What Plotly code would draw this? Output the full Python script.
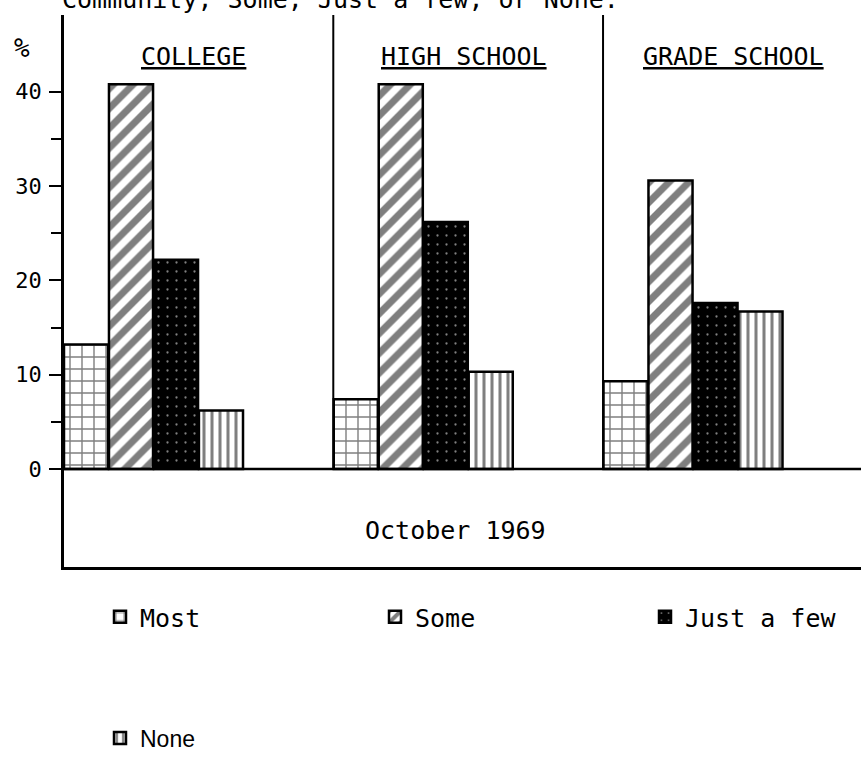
import plotly.graph_objects as go

groups = ["COLLEGE", "HIGH SCHOOL", "GRADE SCHOOL"]
series = ["Most", "Some", "Just a few", "None"]
most = [13.2, 7.4, 9.3]
some = [40.8, 40.8, 30.6]
just_a_few = [22.2, 26.2, 17.6]
none = [6.2, 10.3, 16.7]
ytick_vals = [0, 10, 20, 30, 40]
ytick_text = ["0", "10", "20", "30", "40"]
title_text = "Community, Some, Just a few, or None."
period_text = "October 1969"

MONO = "DejaVu Sans Mono"
BARGAP = 0.333
YMIN, YMAX = -10.39, 48.14

patterns = [
    dict(shape="+", fgcolor="black", bgcolor="white", size=12, solidity=0.22),
    dict(shape="/", fgcolor="black", bgcolor="white", size=14, solidity=0.5),
    dict(shape=".", fgcolor="white", bgcolor="black", size=9, solidity=0.05),
    dict(shape="|", fgcolor="black", bgcolor="white", size=8, solidity=0.38),
]
values = [most, some, just_a_few, none]
legend_ids = ["legend", "legend2", "legend3", "legend4"]

fig = go.Figure()
for name, vals, pat, lg in zip(series, values, patterns, legend_ids):
    fig.add_trace(go.Bar(
        x=groups, y=vals, name=name, legend=lg,
        marker=dict(color="white", pattern=pat,
                    line=dict(color="black", width=2.5)),
        hoverinfo="skip",
    ))

# baseline at zero and separators between groups
fig.add_shape(type="line", xref="paper", yref="y", x0=0, x1=1, y0=0, y1=0,
              line=dict(color="black", width=2.5))
for i in range(1, len(groups)):
    xs = i - (1 - BARGAP) / 2
    fig.add_shape(type="line", xref="x", yref="paper", x0=xs, x1=xs,
                  y0=(0 - YMIN) / (YMAX - YMIN), y1=1,
                  line=dict(color="black", width=2))

annotations = []
for i, g in enumerate(groups):
    annotations.append(dict(
        x=i + 0.15, y=43.7, xref="x", yref="y", text=g, showarrow=False,
        font=dict(family=MONO, size=25, color="black", lineposition="under"),
        xanchor="center", yanchor="middle"))
annotations.append(dict(
    x=(455 - 64) / 797, y=-6.5, xref="paper", yref="y", text=period_text,
    showarrow=False, font=dict(family=MONO, size=25, color="black"),
    xanchor="center", yanchor="middle"))
annotations.append(dict(
    x=-0.005, y=1.0272, xref="paper", yref="paper", text=title_text,
    showarrow=False, font=dict(family=MONO, size=25, color="black"),
    xanchor="left", yanchor="middle"))
annotations.append(dict(
    x=-0.053, y=44.6, xref="paper", yref="y", text="%",
    showarrow=False, font=dict(family=MONO, size=26, color="black"),
    xanchor="center", yanchor="middle"))

def leg(xpx, ypx, fam, size):
    return dict(x=(xpx - 64) / 797, y=(567 - ypx) / 552, xanchor="left",
                yanchor="middle", orientation="h", bgcolor="rgba(0,0,0,0)",
                font=dict(family=fam, size=size, color="black"))

fig.update_layout(
    width=861, height=773,
    margin=dict(l=64, r=0, t=15, b=206, autoexpand=False),
    paper_bgcolor="white", plot_bgcolor="white",
    barmode="group", bargap=BARGAP, bargroupgap=0.02,
    showlegend=True,
    legend=leg(100, 617, MONO, 25),
    legend2=leg(375, 617, MONO, 25),
    legend3=leg(645, 617, MONO, 25),
    legend4=leg(100, 738, "Liberation Sans", 23),
    annotations=annotations,
    font=dict(family=MONO, color="black"),
)
fig.update_xaxes(
    type="category", range=[-0.3318, 2.6228], showticklabels=False,
    ticks="", showgrid=False, zeroline=False,
    showline=True, linecolor="black", linewidth=2.5,
)
fig.update_yaxes(
    range=[YMIN, YMAX], tickvals=ytick_vals, ticktext=ytick_text,
    ticks="outside", ticklen=12, tickwidth=2, tickcolor="black",
    tickfont=dict(family=MONO, size=22, color="black"),
    ticklabelstandoff=3,
    minor=dict(tickvals=[5, 15, 25, 35], ticks="outside", ticklen=10,
               tickwidth=2, tickcolor="black", showgrid=False),
    showgrid=False, zeroline=False,
    showline=True, linecolor="black", linewidth=2.5,
)

fig.write_html("out.html",
               config={"displayModeBar": False},
               post_script="document.body.style.margin='0';"
                           "document.body.style.overflow='hidden';")
